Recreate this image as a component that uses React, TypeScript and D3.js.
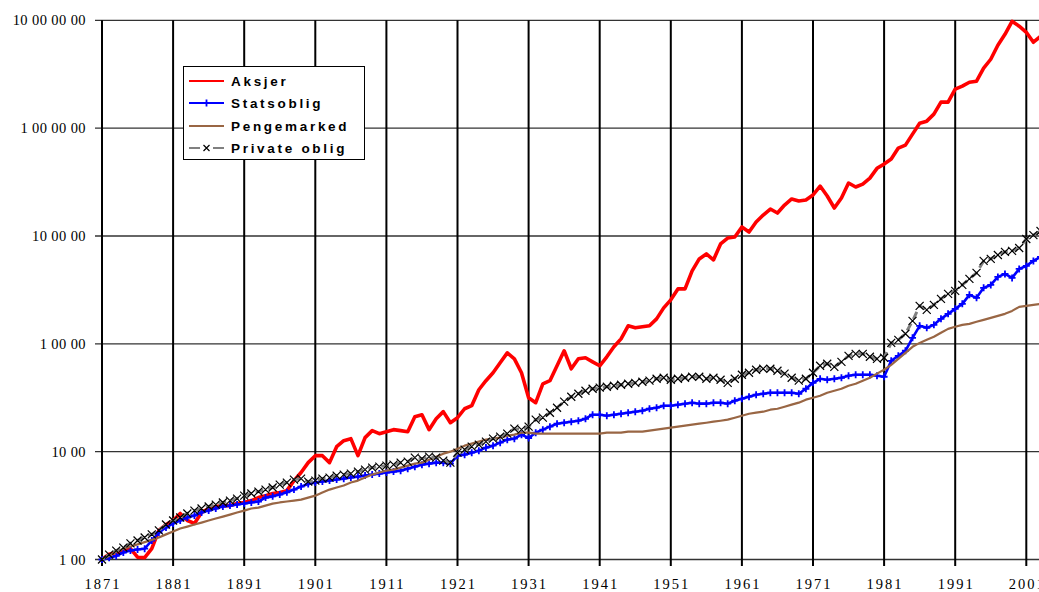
import React from "react";
import * as d3 from "d3";

// ---- data (index values, yearly from 1871) ----
const firstYear = 1871;

const aksjer = [
  100, 112, 116, 120, 126, 105, 104, 126, 186, 211,
  230, 267, 230, 216, 273, 297, 310, 316, 316, 330,
  338, 352, 375, 391, 409, 418, 435, 539, 640, 791,
  918, 918, 791, 1112, 1265, 1320, 918, 1350, 1566, 1468,
  1532, 1600, 1566, 1532, 2110, 2200, 1600, 2020, 2350, 1855,
  2065, 2500, 2670, 3750, 4550, 5390, 6670, 8250, 7260, 5390,
  3162, 2846, 4260, 4550, 6260, 8620, 5870, 7260, 7420, 6810,
  6260, 7580, 9380, 11120, 14680, 14070, 14380, 14680, 17040, 21540,
  25570, 32300, 32300, 47470, 61280, 68130, 59960, 84330, 95700, 97800,
  121200, 108900, 134800, 156400, 177800, 163200, 193600, 220300, 210900, 215400,
  239900, 290400, 234800, 181600, 224900, 309700, 284400, 303000, 344300, 424000,
  464200, 516400, 653100, 696000, 880000, 1112000, 1161000, 1348000, 1741000, 1741000,
  2297000, 2449000, 2667000, 2724000, 3594000, 4353000, 5870000, 7420000, 9790000, 8810000,
  7740000, 6260000, 7110000,
];

const statsoblig = [
  100, 104, 108, 116, 121, 124, 126, 150, 178, 198,
  216, 230, 245, 256, 273, 284, 297, 310, 316, 323,
  330, 338, 345, 375, 385, 400, 420, 445, 475, 500,
  517, 528, 539, 551, 562, 575, 587, 600, 613, 626,
  640, 653, 667, 696, 726, 758, 774, 791, 791, 774,
  918, 938, 979, 1022, 1090, 1137, 1212, 1292, 1320, 1438,
  1339, 1500, 1600, 1705, 1817, 1855, 1896, 1936, 2020, 2200,
  2200, 2154, 2200, 2248, 2297, 2347, 2398, 2500, 2556, 2669,
  2669, 2727, 2786, 2846, 2786, 2786, 2846, 2846, 2786, 2969,
  3098, 3233, 3375, 3445, 3520, 3520, 3520, 3520, 3445, 3830,
  4350, 4740, 4640, 4740, 4846, 5060, 5170, 5170, 5170, 5060,
  4951, 6960, 7740, 8620, 11370, 14680, 14070, 15000, 17040, 18960,
  21100, 23470, 28440, 26690, 33030, 35160, 41750, 44480, 40870, 49510,
  52760, 58700, 63970,
];

const pengemarked = [
  100, 108, 118, 126, 132, 138, 145, 152, 160, 171,
  182, 194, 202, 211, 220, 230, 240, 250, 261, 273,
  284, 297, 303, 316, 330, 338, 345, 352, 359, 375,
  391, 418, 445, 465, 485, 517, 539, 575, 613, 640,
  667, 681, 711, 742, 774, 791, 843, 898, 958, 1000,
  1066, 1137, 1186, 1238, 1292, 1320, 1348, 1407, 1438, 1500,
  1500, 1468, 1468, 1468, 1468, 1468, 1468, 1468, 1468, 1468,
  1468, 1500, 1500, 1500, 1532, 1532, 1532, 1566, 1599, 1634,
  1668, 1705, 1742, 1778, 1817, 1855, 1896, 1936, 1980, 2065,
  2154, 2248, 2297, 2347, 2450, 2500, 2612, 2727, 2846, 3034,
  3162, 3301, 3520, 3670, 3830, 4087, 4260, 4550, 4846, 5290,
  5750, 6390, 7260, 8250, 9380, 10200, 10890, 11610, 12650, 13770,
  14380, 15000, 15320, 16000, 16680, 17410, 18170, 18960, 20200, 22010,
  22490, 22970, 23470,
];

const privateOblig = [
  100, 111, 121, 129, 141, 150, 160, 171, 186, 211,
  230, 245, 267, 284, 297, 310, 323, 338, 352, 367,
  391, 409, 426, 445, 465, 495, 517, 551, 562, 528,
  539, 562, 575, 600, 613, 626, 653, 681, 711, 726,
  742, 758, 791, 808, 880, 862, 898, 880, 825, 791,
  979, 1044, 1112, 1161, 1238, 1320, 1377, 1468, 1634, 1599,
  1705, 1980, 2065, 2297, 2556, 2910, 3233, 3445, 3670, 3830,
  3920, 4000, 4087, 4176, 4260, 4350, 4450, 4550, 4740, 4846,
  4640, 4740, 4846, 4951, 4951, 4740, 4846, 4640, 4350, 4740,
  5170, 5390, 5750, 5870, 5870, 5623, 5290, 4846, 4550, 4740,
  5390, 6260, 6530, 6120, 6810, 7740, 8070, 8070, 7580, 7260,
  7420, 10200, 10890, 12390, 16330, 22490, 20670, 22970, 26100, 29040,
  30970, 35160, 40000, 45480, 58700, 61280, 66680, 71120, 72700, 77400,
  93800, 102000, 111200,
];

const xTickYears = [1871, 1881, 1891, 1901, 1911, 1921, 1931, 1941, 1951, 1961, 1971, 1981, 1991, 2001];
const xTickLabels = ["1871", "1881", "1891", "1901", "1911", "1921", "1931", "1941", "1951", "1961", "1971", "1981", "1991", "2001"];
const yTickValues = [100, 1000, 10000, 100000, 1000000, 10000000];
const yTickLabels = ["1 00", "10 00", "1 00 00", "10 00 00", "1 00 00 00", "10 00 00 00"];

const seriesNames = ["Aksjer", "Statsoblig", "Pengemarked", "Private oblig"];

const W = 1039;
const H = 592;

export default function App() {
  const x = d3.scaleLinear().domain([1871, 2001]).range([102, 1026.3]);
  const y = d3.scaleLog().domain([100, 10000000]).range([559.5, 20.3]);

  const toPts = (arr: number[]) => arr.map((v, i) => [x(firstYear + i), y(v)] as [number, number]);
  const line = d3.line<[number, number]>().x((d) => d[0]).y((d) => d[1]);

  const redPts = toPts(aksjer);
  const bluePts = toPts(statsoblig);
  const brownPts = toPts(pengemarked);
  const blackPts = toPts(privateOblig);

  const plus = (px: number, py: number, s: number) => `M${px - s},${py}H${px + s}M${px},${py - s}V${py + s}`;
  const cross = (px: number, py: number, s: number) =>
    `M${px - s},${py - s}L${px + s},${py + s}M${px - s},${py + s}L${px + s},${py - s}`;

  const yBottom = y(100);
  const yTop = y(10000000);

  const legendX = 183.5;
  const legendY = 66.5;
  const rowY = [81, 103, 126, 148];

  return (
    <div style={{ position: "absolute", left: 0, top: 0, width: W, height: H, overflow: "hidden" }}>
      <svg width={W} height={H} style={{ display: "block", background: "#fff" }}>
        {/* horizontal gridlines */}
        {yTickValues.map((v) => (
          <line key={"h" + v} x1={95} x2={W} y1={y(v)} y2={y(v)} stroke="#333" strokeWidth={1.3} />
        ))}
        {/* vertical gridlines */}
        {xTickYears.map((yr) => (
          <line key={"v" + yr} x1={x(yr)} x2={x(yr)} y1={yTop} y2={yBottom + 6.5} stroke="#000" strokeWidth={2} />
        ))}
        {/* y labels */}
        {yTickValues.map((v, i) => (
          <text
            key={"yl" + v}
            x={86}
            y={y(v) + 5}
            textAnchor="end"
            fontFamily="'Liberation Serif', 'Times New Roman', serif"
            fontSize={14.5}
            letterSpacing={0.4}
            fill="#000"
          >
            {yTickLabels[i]}
          </text>
        ))}
        {/* x labels */}
        {xTickYears.map((yr, i) => (
          <text
            key={"xl" + yr}
            x={x(yr) + 1}
            y={589}
            textAnchor="middle"
            fontFamily="'Liberation Serif', 'Times New Roman', serif"
            fontSize={14.5}
            letterSpacing={2}
            fill="#000"
          >
            {xTickLabels[i]}
          </text>
        ))}

        {/* Aksjer */}
        <path d={line(redPts) || ""} fill="none" stroke="#ff0000" strokeWidth={3.6} strokeLinejoin="round" />
        {/* Statsoblig */}
        <path d={line(bluePts) || ""} fill="none" stroke="#0000ff" strokeWidth={2.6} strokeLinejoin="round" />
        <path
          d={bluePts.map((p) => plus(p[0], p[1], 3.5)).join("")}
          fill="none"
          stroke="#0000ff"
          strokeWidth={1.8}
        />
        {/* Pengemarked */}
        <path d={line(brownPts) || ""} fill="none" stroke="#996644" strokeWidth={2.2} strokeLinejoin="round" />
        {/* Private oblig */}
        <path
          d={line(blackPts) || ""}
          fill="none"
          stroke="#808080"
          strokeWidth={3}
          strokeDasharray="8 5"
          strokeLinejoin="round"
        />
        <path
          d={blackPts.map((p) => cross(p[0], p[1], 4)).join("")}
          fill="none"
          stroke="#000"
          strokeWidth={1.2}
        />

        {/* legend */}
        <rect x={legendX} y={legendY} width={181} height={93} fill="#fff" stroke="#000" strokeWidth={1} />
        <line x1={189} x2={224} y1={rowY[0]} y2={rowY[0]} stroke="#ff0000" strokeWidth={2} />
        <line x1={189} x2={224} y1={rowY[1]} y2={rowY[1]} stroke="#0000ff" strokeWidth={2} />
        <path d={plus(206.5, rowY[1], 3.5)} stroke="#0000ff" strokeWidth={1.8} fill="none" />
        <line x1={189} x2={224} y1={rowY[2]} y2={rowY[2]} stroke="#996644" strokeWidth={2} />
        <line x1={189} x2={200} y1={rowY[3]} y2={rowY[3]} stroke="#808080" strokeWidth={2} />
        <line x1={213} x2={224} y1={rowY[3]} y2={rowY[3]} stroke="#808080" strokeWidth={2} />
        <path d={cross(206.5, rowY[3], 3)} stroke="#000" strokeWidth={1.2} fill="none" />
        {seriesNames.map((name, i) => (
          <text
            key={name}
            x={231}
            y={rowY[i] + 5}
            fontFamily="'Liberation Sans', Arial, sans-serif"
            fontWeight="bold"
            fontSize={13.5}
            letterSpacing={2.7}
            fill="#000"
          >
            {name}
          </text>
        ))}
      </svg>
    </div>
  );
}
